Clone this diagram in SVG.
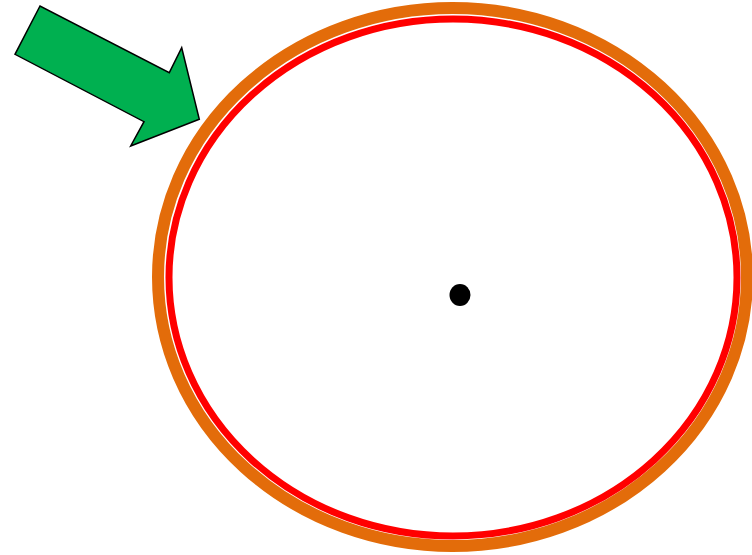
<svg xmlns="http://www.w3.org/2000/svg" width="752" height="555" viewBox="0 0 752 555">
<style>
.outer{fill:none;stroke:#E36C0A;stroke-width:12}
.inner{fill:none;stroke:#FF0000;stroke-width:7}
.arrow{fill:#00B050;stroke:#000;stroke-width:1.5;stroke-linejoin:miter}
</style>
<rect width="752" height="555" fill="#fff"/>
<g id="orange-ellipse"><ellipse class="outer" cx="452.5" cy="277" rx="294.5" ry="269"/></g>
<g id="red-ellipse"><ellipse class="inner" cx="453" cy="277.5" rx="284" ry="258.5"/></g>
<g id="center-dot"><ellipse cx="460" cy="295" rx="10.5" ry="11" fill="#000"/></g>
<g id="connectors">
<polygon id="green-arrow" class="arrow" points="40,6 15,54.3 144,121.7 130.7,146 199.3,119.3 181.7,47.7 169.3,72.7"/>
</g>
</svg>
